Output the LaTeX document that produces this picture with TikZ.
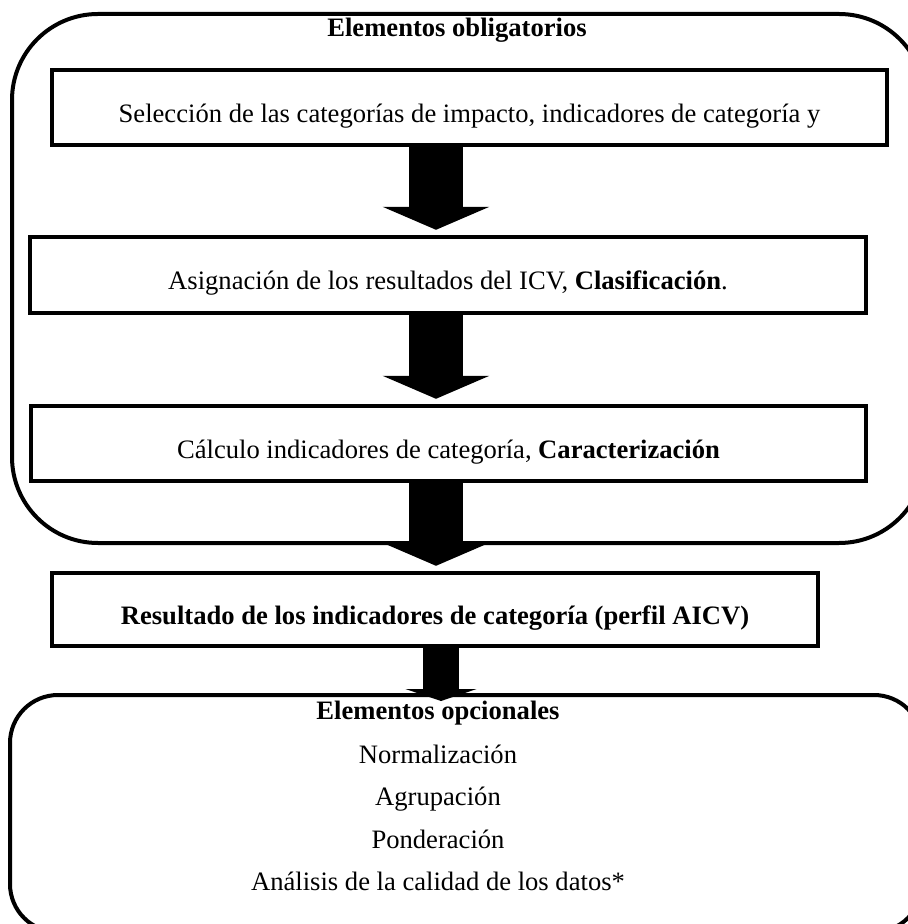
\documentclass[tikz,border=0pt]{standalone}
\usepackage{fontspec}
\setmainfont{Liberation Serif}
\usetikzlibrary{arrows.meta}
\begin{document}
\fontsize{13.3pt}{16pt}\selectfont
\begin{tikzpicture}[x=0.5pt,y=-0.5pt,
    groupbox/.style={draw,line width=2pt,rounded corners=#1,inner sep=0pt},
    stepbox/.style={draw,line width=2.2pt,inner sep=0pt,text height=1.1em,text depth=0pt},
    bigarrow/.style={line width=27pt,-{Triangle[width=53pt,length=11.5pt]},shorten >=2.5pt}]
  \useasboundingbox (0,0) rectangle (907,924);
  \node[groupbox=43pt,minimum width=456.5pt,minimum height=264.5pt] (oblig) at (468.5,278.5) {};
  \node[anchor=base,font=\bfseries] (toblig) at (457,37) {Elementos obligatorios};
  \node[stepbox,minimum width=417.5pt,minimum height=37.5pt] (sel) at (469.5,107.5)
    {Selección de las categorías de impacto, indicadores de categoría y};
  \node[stepbox,minimum width=418pt,minimum height=38pt] (asig) at (448,275)
    {Asignación de los resultados del ICV, \textbf{Clasificación}.};
  \node[stepbox,minimum width=417.5pt,minimum height=37.5pt] (calc) at (448.5,443.5)
    {Cálculo indicadores de categoría, \textbf{Caracterización}};
  \node[stepbox,minimum width=383pt,minimum height=36.5pt,font=\bfseries] (perfil) at (435,609.5)
    {Resultado de los indicadores de categoría (perfil AICV)};
  \node[groupbox=24pt,minimum width=456pt,minimum height=118.5pt] (opcion) at (466,813.5) {};
  \coordinate (eje) at (436,0);
  \coordinate (eje4) at (441,0);
  \draw[bigarrow] (sel.south -| eje) -- (asig.north -| eje);
  \draw[bigarrow] (asig.south -| eje) -- (calc.north -| eje);
  \draw[bigarrow] (calc.south -| eje) -- (perfil.north -| eje);
  \draw[line width=18pt,-{Triangle[width=35.5pt,length=6pt]},shorten >=-4pt] (perfil.south -| eje4) -- (opcion.north -| eje4);
  \node[anchor=base,font=\bfseries] (topc) at (438,719) {Elementos opcionales};
  \node[anchor=base] (norm) at (438,763) {Normalización};
  \node[anchor=base] (agrup) at (438,805.5) {Agrupación};
  \node[anchor=base] (pond) at (438,848) {Ponderación};
  \node[anchor=base] (calid) at (438,890.5) {Análisis de la calidad de los datos*};
\end{tikzpicture}
\end{document}
